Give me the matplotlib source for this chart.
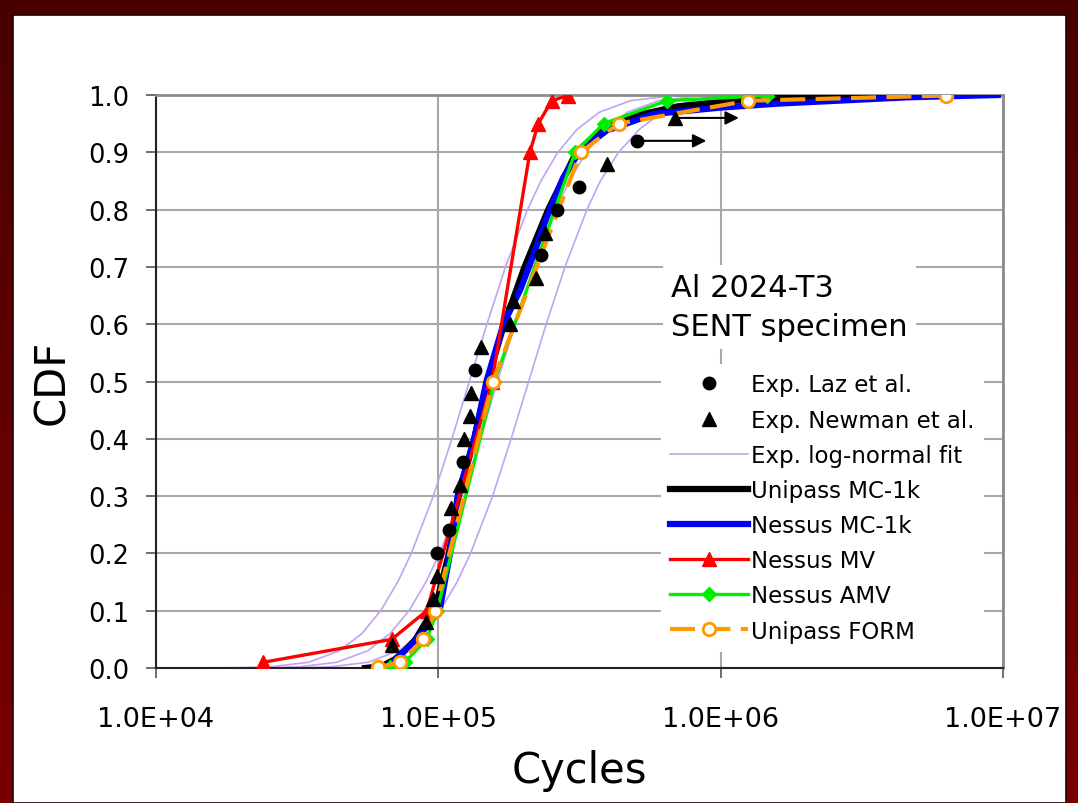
import numpy as np
import matplotlib.pyplot as plt
from matplotlib.patches import Rectangle
from matplotlib.colors import LinearSegmentedColormap

plt.rcParams['font.family'] = ['DejaVu Sans']

# experimental data (cycles, CDF)
laz_x = [9.87e4, 1.09e5, 1.22e5, 1.35e5, 2.31e5, 2.63e5, 3.14e5, 5.05e5]
laz_y = [0.20, 0.24, 0.36, 0.52, 0.72, 0.80, 0.84, 0.92]
newman_x = [6.84e4, 9.03e4, 9.59e4, 9.91e4, 1.11e5, 1.19e5, 1.23e5, 1.29e5,
            1.31e5, 1.42e5, 1.80e5, 1.84e5, 2.22e5, 2.39e5, 3.97e5, 6.89e5]
newman_y = [0.04, 0.08, 0.12, 0.16, 0.28, 0.32, 0.40, 0.44,
            0.48, 0.56, 0.60, 0.64, 0.68, 0.76, 0.88, 0.96]

# run-out arrows: (start cycles, end cycles, CDF)
arrow_start = [5.05e5, 6.89e5]
arrow_end = [8.9e5, 1.16e6]
arrow_y = [0.92, 0.96]

# log-normal fit, lower / median / upper curves
logn_y = [0.0, 0.0005, 0.002, 0.01, 0.03, 0.06, 0.10, 0.15, 0.20, 0.30, 0.40, 0.50,
          0.60, 0.70, 0.80, 0.85, 0.90, 0.94, 0.97, 0.99, 0.998, 0.9995, 1.0]
logn_lo_x = [1.0e4, 2.01e4, 2.54e4, 3.47e4, 4.46e4, 5.36e4, 6.25e4, 7.18e4, 8.02e4, 9.60e4,
             1.117e5, 1.288e5, 1.486e5, 1.73e5, 2.07e5, 2.31e5, 2.65e5, 3.10e5, 3.72e5,
             4.79e5, 6.53e5, 8.24e5, 1.0e6]
logn_mid_x = [1.0e4, 2.53e4, 3.20e4, 4.37e4, 5.62e4, 6.75e4, 7.87e4, 9.04e4, 1.01e5, 1.21e5,
              1.41e5, 1.62e5, 1.87e5, 2.18e5, 2.61e5, 2.91e5, 3.34e5, 3.90e5, 4.68e5,
              6.03e5, 8.22e5, 1.04e6, 1.3e6]
logn_hi_x = [1.0e4, 3.26e4, 4.12e4, 5.63e4, 7.23e4, 8.69e4, 1.014e5, 1.165e5, 1.30e5, 1.557e5,
             1.81e5, 2.09e5, 2.41e5, 2.81e5, 3.36e5, 3.75e5, 4.35e5, 5.15e5, 6.2e5,
             7.9e5, 1.07e6, 1.34e6, 1.7e6]

# Monte Carlo (1000 samples)
uni_mc_x = [5.5e4, 6.3e4, 7.0e4, 7.6e4, 8.3e4, 8.9e4, 9.7e4, 1.09e5, 1.18e5, 1.34e5, 1.49e5,
            1.71e5, 2.02e5, 2.45e5, 3.08e5, 3.8e5, 4.6e5, 7.0e5, 1.1e6, 1.8e6, 4.6e6]
uni_mc_y = [0.0, 0.003, 0.015, 0.03, 0.05, 0.075, 0.10, 0.20, 0.30, 0.40, 0.50,
            0.60, 0.70, 0.80, 0.90, 0.94, 0.96, 0.98, 0.99, 0.996, 1.0]
nes_mc_x = [6.9e4, 7.4e4, 8.2e4, 9.0e4, 1.01e5, 1.10e5, 1.17e5, 1.34e5, 1.48e5, 1.70e5,
            1.95e5, 2.17e5, 2.42e5, 2.77e5, 3.18e5, 3.95e5, 5.8e5, 1.0e6, 1.6e6, 4.6e6, 9.6e6]
nes_mc_y = [0.01, 0.025, 0.045, 0.07, 0.10, 0.20, 0.30, 0.40, 0.50, 0.60,
            0.66, 0.72, 0.786, 0.856, 0.903, 0.938, 0.967, 0.978, 0.985, 0.996, 1.0]

# Nessus mean value
mv_x = [2.4e4, 6.84e4, 9.1e4, 1.55e5, 2.11e5, 2.26e5, 2.52e5, 2.89e5]
mv_y = [0.01, 0.05, 0.10, 0.50, 0.90, 0.95, 0.99, 0.999]
# Nessus advanced mean value
amv_x = [6.75e4, 7.6e4, 9.1e4, 9.9e4, 1.58e5, 3.05e5, 3.85e5, 6.44e5, 1.46e6]
amv_y = [0.001, 0.01, 0.05, 0.10, 0.50, 0.90, 0.95, 0.99, 0.999]
# Unipass FORM
form_x = [6.12e4, 7.31e4, 8.85e4, 9.73e4, 1.56e5, 3.19e5, 4.35e5, 1.25e6, 6.28e6]
form_y = [0.001, 0.01, 0.05, 0.10, 0.50, 0.90, 0.95, 0.99, 0.999]

x_ticks = [1e4, 1e5, 1e6, 1e7]
x_ticklabels = ['1.0E+04', '1.0E+05', '1.0E+06', '1.0E+07']
y_ticks = np.round(np.arange(0, 1.01, 0.1), 1)

lavender = '#c4a2f2'

fig = plt.figure(figsize=(10.78, 8.04), dpi=100)

# dark red slide frame
bg = fig.add_axes([0, 0, 1, 1], zorder=-10)
grad = np.linspace(0, 1, 256).reshape(-1, 1)
cmap = LinearSegmentedColormap.from_list('frame', ['#480000', '#7a0000'])
bg.imshow(grad, aspect='auto', cmap=cmap, extent=[0, 1, 0, 1], origin='upper')
bg.add_patch(Rectangle((13 / 1078, 0), (1066 - 13) / 1078, (804 - 16) / 804,
                       facecolor='white', edgecolor='#200000', lw=1.2))
bg.set_xlim(0, 1)
bg.set_ylim(0, 1)
bg.axis('off')

ax = fig.add_axes([0.1447, 0.1679, 0.7857, 0.7127])
ax.set_facecolor('none')
ax.set_xscale('log')

ax.plot(logn_lo_x, logn_y, color=lavender, lw=1.2, zorder=2, label='Exp. log-normal fit')
ax.plot(logn_mid_x, logn_y, color=lavender, lw=1.2, zorder=2)
ax.plot(logn_hi_x, logn_y, color=lavender, lw=1.2, zorder=2)

ax.plot(uni_mc_x, uni_mc_y, color='black', lw=4.5, zorder=3, label='Unipass MC-1k')
ax.plot(nes_mc_x, nes_mc_y, color='#0000ff', lw=4.5, zorder=4, label='Nessus MC-1k')
ax.plot(mv_x, mv_y, color='#ff0000', lw=2.4, marker='^', ms=10, zorder=5, label='Nessus MV')
ax.plot(amv_x, amv_y, color='#00ee00', lw=2.4, marker='D', ms=7, zorder=6, label='Nessus AMV')
ax.plot(form_x, form_y, color='#ff9900', lw=3, dashes=(6, 2.5), marker='o', ms=9,
        mfc='white', mec='#ff9900', mew=2, zorder=7, label='Unipass FORM')

ax.plot(laz_x, laz_y, 'o', color='black', ms=9, zorder=8, label='Exp. Laz et al.')
ax.plot(newman_x, newman_y, '^', color='black', ms=10, zorder=8, label='Exp. Newman et al.')

for x0, x1, y in zip(arrow_start, arrow_end, arrow_y):
    ax.annotate('', xy=(x1, y), xytext=(x0, y), zorder=8,
                arrowprops=dict(arrowstyle='-|>', color='black', lw=1.5,
                                mutation_scale=20, shrinkA=0, shrinkB=0))

ax.set_xlim(1e4, 1e7)
ax.set_ylim(0, 1)
ax.set_xticks(x_ticks)
ax.set_xticklabels(x_ticklabels)
ax.minorticks_off()
ax.set_yticks(y_ticks)
ax.set_yticklabels([f'{v:.1f}' for v in y_ticks])
ax.tick_params(axis='both', direction='out', length=7, width=1.2, color='#555555')
ax.tick_params(axis='y', pad=12, labelsize=18.5)
ax.tick_params(axis='x', pad=20, labelsize=19.5)

ax.grid(True, color='#a8a8a8', lw=1.5, zorder=0)
ax.set_axisbelow(True)
for side in ['top', 'right']:
    ax.spines[side].set_color('#8c8c8c')
    ax.spines[side].set_linewidth(2)
for side in ['left', 'bottom']:
    ax.spines[side].set_color('#222222')
    ax.spines[side].set_linewidth(1.5)

ax.set_ylabel('CDF', fontsize=30)
ax.set_xlabel('Cycles', fontsize=30)
ax.yaxis.set_label_coords(-0.098, 0.5)
ax.xaxis.set_label_coords(0.5, -0.142)

ax.text(0.608, 0.63, 'Al 2024-T3\nSENT specimen', transform=ax.transAxes, fontsize=22,
        ha='left', va='center', linespacing=1.45, zorder=9,
        bbox=dict(facecolor='white', edgecolor='none', pad=6))

order = ['Exp. Laz et al.', 'Exp. Newman et al.', 'Exp. log-normal fit', 'Unipass MC-1k',
         'Nessus MC-1k', 'Nessus MV', 'Nessus AMV', 'Unipass FORM']
handles, labels = ax.get_legend_handles_labels()
lookup = dict(zip(labels, handles))
leg = ax.legend([lookup[k] for k in order], order, loc='upper left',
                bbox_to_anchor=(0.596, 0.53), fontsize=16.5, frameon=True,
                facecolor='white', edgecolor='none', framealpha=1, fancybox=False,
                handlelength=3.4, handletextpad=0.15, labelspacing=0.53,
                borderaxespad=0, borderpad=0.4, numpoints=1)
leg.set_zorder(9)

fig.savefig('out.png', dpi=100)
